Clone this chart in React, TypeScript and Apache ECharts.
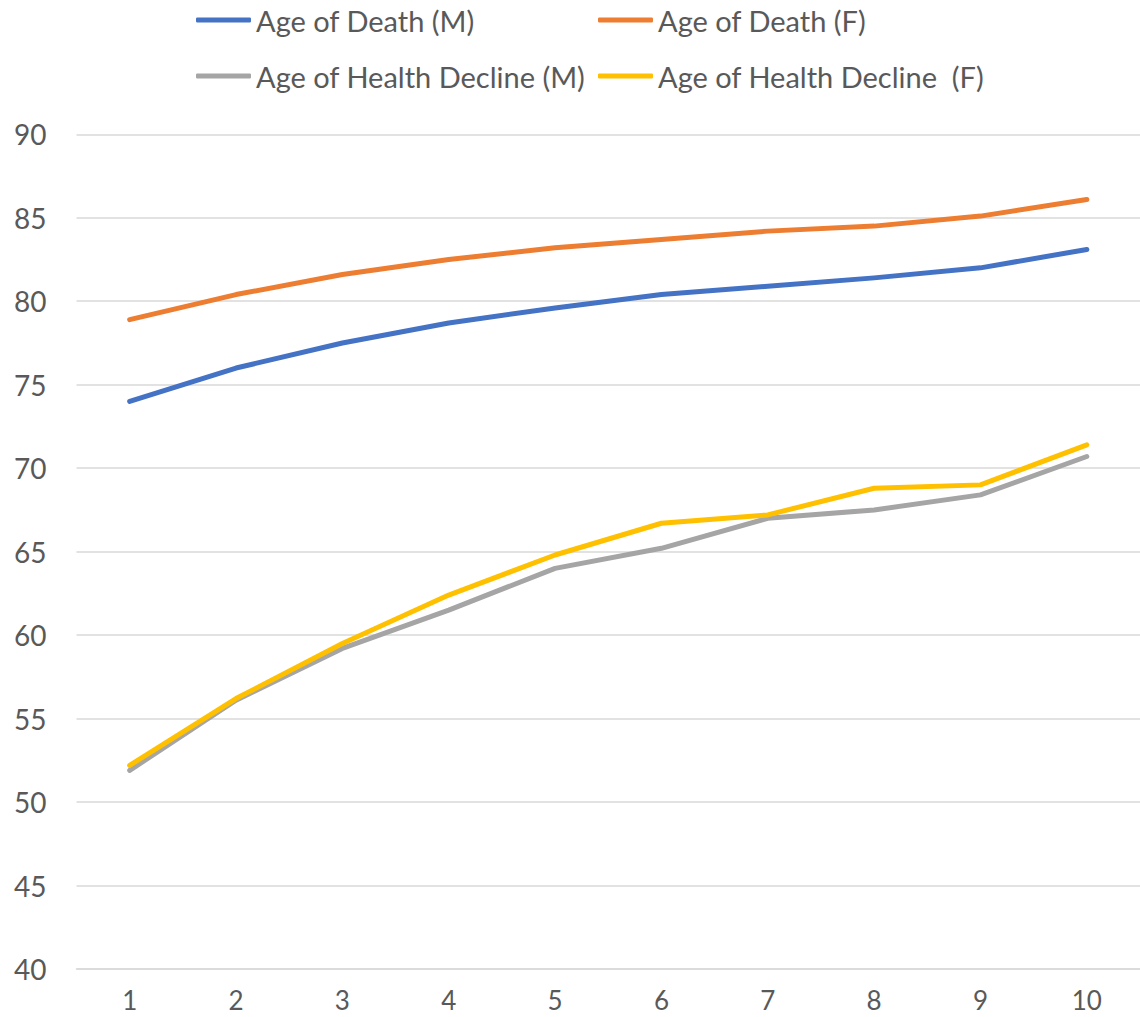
import React, { useEffect, useRef } from "react";
import * as echarts from "echarts";

const categories = ["1", "2", "3", "4", "5", "6", "7", "8", "9", "10"];
const deathM = [74.0, 76.0, 77.5, 78.7, 79.6, 80.4, 80.9, 81.4, 82.0, 83.1];
const deathF = [78.9, 80.4, 81.6, 82.5, 83.2, 83.7, 84.2, 84.5, 85.1, 86.1];
const healthM = [51.9, 56.1, 59.2, 61.5, 64.0, 65.2, 67.0, 67.5, 68.4, 70.7];
const healthF = [52.2, 56.2, 59.5, 62.4, 64.8, 66.7, 67.2, 68.8, 69.0, 71.4];
const seriesNames = [
  "Age of Death (M)",
  "Age of Death (F)",
  "Age of Health Decline (M)",
  "Age of Health Decline  (F)",
];
const colors = ["#4472C4", "#ED7D31", "#A5A5A5", "#FFC000"];

const FONT = "Lato, 'Noto Sans', sans-serif";
const TXT = "#595959";

export default function App() {
  const ref = useRef<HTMLDivElement>(null);
  useEffect(() => {
    if (!ref.current) return;
    const chart = echarts.init(ref.current, undefined, { renderer: "svg" });
    const values = [deathM, deathF, healthM, healthF];
    const legendCommon = {
      orient: "vertical" as const,
      top: 5,
      padding: 0,
      itemWidth: 55,
      itemHeight: 5,
      itemGap: 26,
      icon: "roundRect",
      textStyle: { fontFamily: FONT, fontSize: 29, color: TXT, lineHeight: 30 },
    };
    chart.setOption({
      animation: false,
      color: colors,
      textStyle: { fontFamily: FONT },
      legend: [
        { ...legendCommon, left: 196, data: [seriesNames[0], seriesNames[2]] },
        { ...legendCommon, left: 598, data: [seriesNames[1], seriesNames[3]] },
      ],
      grid: { left: 76.5, right: -6.5, top: 134.3, bottom: 48, containLabel: false },
      xAxis: {
        type: "category",
        data: categories,
        boundaryGap: true,
        axisLine: { show: true, lineStyle: { color: "#D9D9D9", width: 1.5 } },
        axisTick: { show: false },
        axisLabel: { fontFamily: FONT, fontSize: 26, color: TXT, margin: 18, lineHeight: 26 },
      },
      yAxis: {
        type: "value",
        min: 40,
        max: 90,
        interval: 5,
        axisLine: { show: false },
        axisTick: { show: false },
        splitLine: { lineStyle: { color: "#D9D9D9", width: 1.5 } },
        axisLabel: { fontFamily: FONT, fontSize: 28, color: TXT, margin: 30 },
      },
      series: seriesNames.map((name, i) => ({
        name,
        type: "line",
        data: values[i],
        symbol: "none",
        lineStyle: { width: 5, color: colors[i], cap: "round", join: "round" },
        itemStyle: { color: colors[i] },
      })),
    });
    return () => chart.dispose();
  }, []);
  return (
    <div
      ref={ref}
      style={{ position: "absolute", left: 0, top: 0, width: 1140, height: 1017, background: "#fff" }}
    />
  );
}
